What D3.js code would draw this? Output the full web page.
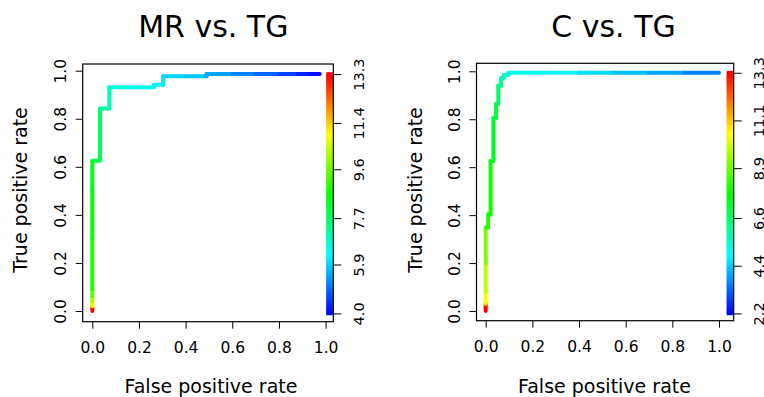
<!DOCTYPE html>
<html>
<head>
<meta charset="utf-8">
<script src="https://cdn.jsdelivr.net/npm/d3@7"></script>
<style>
  body { margin: 0; background: #fff; }
  svg { display: block; font-family: "DejaVu Sans", Verdana, sans-serif; }
</style>
</head>
<body>
<div id="chart"></div>
<script>
// ---------------- data ----------------
const xTicks = [0, 0.2, 0.4, 0.6, 0.8, 1.0]
const yTicks = [0, 0.2, 0.4, 0.6, 0.8, 1.0]

// MR vs. TG : ROC points (false positive rate, true positive rate, cutoff)
const mrFpr = [0, 0, 0, 0, 0, 0, 0, 0, 0.033, 0.033, 0.073, 0.073, 0.15, 0.264, 0.264, 0.304, 0.304, 0.4, 0.49, 0.49, 0.6, 0.7, 0.8, 0.88, 0.93, 0.975]
const mrTpr = [0, 0.02, 0.04, 0.06, 0.09, 0.3, 0.5, 0.625, 0.625, 0.843, 0.843, 0.931, 0.931, 0.931, 0.942, 0.942, 0.977, 0.977, 0.977, 0.986, 0.986, 0.986, 0.986, 0.986, 0.986, 0.986]
const mrCutoff = [13.3, 11.0, 10.2, 9.5, 9.0, 8.7, 8.4, 8.1, 7.8, 7.3, 7.0, 6.7, 6.5, 6.3, 6.2, 6.1, 5.95, 5.8, 5.65, 5.5, 5.2, 4.9, 4.6, 4.3, 4.1, 4.0]
const mrKeyTicks = ["4.0", "5.9", "7.7", "9.6", "11.4", "13.3"]
const mrCutRange = [4.0, 13.3]

// C vs. TG
const cFpr = [0, 0, 0, 0, 0, 0.01, 0.01, 0.021, 0.021, 0.033, 0.033, 0.044, 0.044, 0.054, 0.054, 0.066, 0.066, 0.077, 0.077, 0.097, 0.097, 0.25, 0.4, 0.55, 0.7, 0.85, 1.0]
const cTpr = [0, 0.03, 0.08, 0.2, 0.348, 0.348, 0.403, 0.403, 0.626, 0.626, 0.805, 0.805, 0.864, 0.864, 0.94, 0.94, 0.971, 0.971, 0.985, 0.985, 0.994, 0.994, 0.994, 0.994, 0.994, 0.994, 0.994]
const cCutoff = [13.3, 10.6, 9.8, 9.0, 8.4, 8.2, 8.0, 7.9, 7.7, 7.5, 7.3, 7.1, 6.9, 6.7, 6.5, 6.2, 6.0, 5.8, 5.6, 5.4, 5.2, 4.9, 4.6, 4.3, 4.0, 3.6, 3.2]
const cKeyTicks = ["2.2", "4.4", "6.6", "8.9", "11.1", "13.3"]
const cCutRange = [2.2, 13.3]

// ---------------- layout (pixels) ----------------
const W = 764, H = 397
const panels = [
  { title: "MR vs. TG", fpr: mrFpr, tpr: mrTpr, cut: mrCutoff, keyTicks: mrKeyTicks, cutRange: mrCutRange,
    box: { l: 82.7, r: 333.3, t: 64, b: 321.7 }, xr: [92.3, 325.6], yr: [311, 70.7],
    titleX: 213.3, xTitleX: 211, yTitleX: 27 },
  { title: "C vs. TG", fpr: cFpr, tpr: cTpr, cut: cCutoff, keyTicks: cKeyTicks, cutRange: cCutRange,
    box: { l: 476.5, r: 733.7, t: 63.3, b: 320.7 }, xr: [485.7, 719], yr: [311, 71.3],
    titleX: 613.5, xTitleX: 604.5, yTitleX: 422 }
]

const svg = d3.select("#chart").append("svg")
  .attr("width", W).attr("height", H)

// rev(rainbow(256, start=0, end=4/6)) : low cutoff blue, high cutoff red
function rainbowColor(frac) {
  const hue = 240 * (1 - Math.max(0, Math.min(1, frac)))
  return d3.hsl(hue, 1, 0.5).formatHex()
}

panels.forEach(function (p) {
  const g = svg.append("g")
  const x = d3.scaleLinear().domain([0, 1]).range(p.xr)
  const y = d3.scaleLinear().domain([0, 1]).range(p.yr)
  const topTpr = d3.max(p.tpr)
  const cutScale = d3.scaleLinear().domain(p.cutRange).range([y(-0.01), y(topTpr)])
  const frac = d3.scaleLinear().domain(p.cutRange).range([0, 1])

  // title
  g.append("text")
    .attr("x", p.titleX).attr("y", 36.7)
    .attr("text-anchor", "middle")
    .style("font-size", "30px")
    .text(p.title)

  // bottom axis
  const xAxis = g.append("g")
    .attr("transform", "translate(0," + p.box.b + ")")
    .call(d3.axisBottom(x).tickValues(xTicks).tickFormat(d3.format(".1f")).tickSize(7).tickPadding(0))
  xAxis.select(".domain").remove()
  xAxis.selectAll("text")
    .attr("y", 31.5).attr("dy", 0)
    .style("font-size", "15.5px").style("font-family", "DejaVu Sans").attr("fill", "#000")

  // left axis, labels parallel to the axis
  const yAxis = g.append("g")
    .attr("transform", "translate(" + p.box.l + ",0)")
    .call(d3.axisLeft(y).tickValues(yTicks).tickFormat(d3.format(".1f")).tickSize(7))
  yAxis.select(".domain").remove()
  yAxis.selectAll("text")
    .attr("x", 0).attr("y", -16.5).attr("dy", 0)
    .attr("transform", "rotate(-90)")
    .attr("text-anchor", "middle")
    .style("font-size", "15.5px").style("font-family", "DejaVu Sans").attr("fill", "#000")

  // right axis: cutoff key
  const keyVals = p.keyTicks.map(Number)
  const kAxis = g.append("g")
    .attr("transform", "translate(" + p.box.r + ",0)")
    .call(d3.axisRight(cutScale).tickValues(keyVals).tickFormat(function (d, i) { return p.keyTicks[i] }).tickSize(8))
  kAxis.select(".domain").remove()
  kAxis.selectAll("text")
    .attr("x", 0).attr("y", 30.5).attr("dy", 0)
    .attr("transform", "rotate(-90)")
    .attr("text-anchor", "middle")
    .style("font-size", "14.5px").style("font-family", "DejaVu Sans").attr("fill", "#000")

  // colour key bar
  const nSteps = 120
  const keyX = p.box.r - 7
  const levels = d3.range(nSteps).map(function (i) { return p.cutRange[0] + (p.cutRange[1] - p.cutRange[0]) * i / (nSteps - 1) })
  const stepH = Math.abs(cutScale(p.cutRange[1]) - cutScale(p.cutRange[0])) / (nSteps - 1)
  g.append("g").selectAll("rect")
    .data(levels)
    .enter().append("rect")
    .attr("x", keyX).attr("width", 6.5)
    .attr("y", function (d) { return cutScale(d) - stepH / 2 - 0.8 })
    .attr("height", stepH + 1.6)
    .attr("fill", function (d) { return rainbowColor(frac(d)) })

  // ROC curve, each segment coloured by its cutoff
  const segs = d3.range(p.fpr.length - 1)
  g.append("g").selectAll("line")
    .data(segs)
    .enter().append("line")
    .attr("x1", function (i) { return x(p.fpr[i]) })
    .attr("y1", function (i) { return y(p.tpr[i]) })
    .attr("x2", function (i) { return x(p.fpr[i + 1]) })
    .attr("y2", function (i) { return y(p.tpr[i + 1]) })
    .attr("stroke", function (i) { return rainbowColor(frac(p.cut[i])) })
    .attr("stroke-width", 4)
    .attr("stroke-linecap", "round")

  // plot box
  g.append("rect")
    .attr("x", p.box.l).attr("y", p.box.t)
    .attr("width", p.box.r - p.box.l).attr("height", p.box.b - p.box.t)
    .attr("fill", "none").attr("stroke", "#000").attr("stroke-width", 1.2)

  // axis titles
  g.append("text")
    .attr("x", p.xTitleX).attr("y", 393.3)
    .attr("text-anchor", "middle")
    .style("font-size", "19px")
    .text("False positive rate")
  g.append("text")
    .attr("transform", "translate(" + p.yTitleX + ",190) rotate(-90)")
    .attr("text-anchor", "middle")
    .style("font-size", "19px")
    .text("True positive rate")
})
</script>
</body>
</html>
